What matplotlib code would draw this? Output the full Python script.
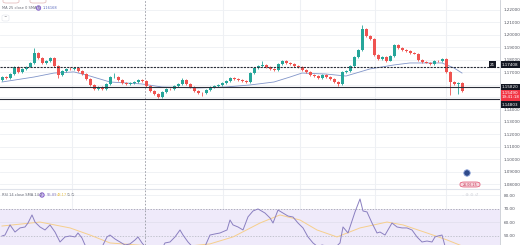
import numpy as np
import matplotlib
matplotlib.use("Agg")
import matplotlib.pyplot as plt
from matplotlib.patches import FancyBboxPatch, Ellipse

# daily candles (close, high, low); open is the previous close
first_open = 1.1637
closes = [1.1661, 1.1653, 1.1685, 1.1742, 1.1702, 1.1726, 1.1742, 1.1774, 1.1854, 1.1814,
          1.1774, 1.1790, 1.1814, 1.1750, 1.1677, 1.1710, 1.1726, 1.1722, 1.1734, 1.1710,
          1.1685, 1.1645, 1.1597, 1.1565, 1.1581, 1.1565, 1.1605, 1.1661, 1.1665, 1.1637,
          1.1613, 1.1605, 1.1613, 1.1621, 1.1637, 1.1629, 1.1589, 1.1549, 1.1525, 1.1501,
          1.1541, 1.1565, 1.1562, 1.1589, 1.1605, 1.1637, 1.1605, 1.1581, 1.1549, 1.1533,
          1.1529, 1.1557, 1.1581, 1.1589, 1.1597, 1.1613, 1.1629, 1.1653, 1.1645, 1.1637,
          1.1629, 1.1621, 1.1693, 1.1734, 1.1750, 1.1758, 1.1742, 1.1726, 1.1718, 1.1766,
          1.1790, 1.1774, 1.1768, 1.1750, 1.1742, 1.1718, 1.1702, 1.1677, 1.1669, 1.1653,
          1.1677, 1.1661, 1.1645, 1.1621, 1.1605, 1.1702, 1.1710, 1.1750, 1.1822, 1.1878,
          1.2047, 1.1991, 1.1967, 1.1838, 1.1806, 1.1822, 1.1790, 1.1830, 1.1919, 1.1894,
          1.1878, 1.1870, 1.1854, 1.1850, 1.1798, 1.1782, 1.1776, 1.1766, 1.1790, 1.1788,
          1.1806, 1.1702, 1.1621, 1.1605, 1.1613, 1.1549]
highs = [1.1670, 1.1672, 1.1692, 1.1750, 1.1748, 1.1733, 1.1750, 1.1782, 1.1893, 1.1860,
         1.1820, 1.1798, 1.1822, 1.1820, 1.1755, 1.1716, 1.1734, 1.1738, 1.1744, 1.1740,
         1.1715, 1.1690, 1.1650, 1.1602, 1.1590, 1.1588, 1.1612, 1.1668, 1.1690, 1.1670,
         1.1642, 1.1620, 1.1620, 1.1628, 1.1645, 1.1646, 1.1634, 1.1594, 1.1554, 1.1530,
         1.1548, 1.1572, 1.1574, 1.1596, 1.1612, 1.1650, 1.1642, 1.1610, 1.1586, 1.1555,
         1.1540, 1.1564, 1.1588, 1.1596, 1.1604, 1.1620, 1.1636, 1.1662, 1.1660, 1.1650,
         1.1642, 1.1634, 1.1700, 1.1742, 1.1758, 1.1790, 1.1764, 1.1748, 1.1732, 1.1774,
         1.1798, 1.1795, 1.1780, 1.1772, 1.1756, 1.1748, 1.1724, 1.1708, 1.1684, 1.1674,
         1.1684, 1.1682, 1.1666, 1.1650, 1.1630, 1.1710, 1.1718, 1.1758, 1.1830, 1.1886,
         1.2080, 1.2055, 1.1998, 1.1972, 1.1844, 1.1830, 1.1828, 1.1838, 1.1926, 1.1925,
         1.1900, 1.1884, 1.1876, 1.1862, 1.1856, 1.1804, 1.1790, 1.1782, 1.1797, 1.1800,
         1.1814, 1.1812, 1.1708, 1.1628, 1.1620, 1.1618]
lows = [1.1630, 1.1645, 1.1648, 1.1680, 1.1695, 1.1696, 1.1720, 1.1738, 1.1768, 1.1806,
        1.1766, 1.1768, 1.1785, 1.1745, 1.1655, 1.1670, 1.1705, 1.1715, 1.1716, 1.1704,
        1.1678, 1.1638, 1.1590, 1.1555, 1.1558, 1.1556, 1.1560, 1.1600, 1.1655, 1.1630,
        1.1606, 1.1598, 1.1600, 1.1608, 1.1616, 1.1622, 1.1582, 1.1542, 1.1518, 1.1490,
        1.1495, 1.1536, 1.1554, 1.1556, 1.1584, 1.1600, 1.1598, 1.1574, 1.1542, 1.1525,
        1.1512, 1.1522, 1.1552, 1.1575, 1.1584, 1.1592, 1.1608, 1.1624, 1.1638, 1.1630,
        1.1622, 1.1612, 1.1616, 1.1688, 1.1728, 1.1744, 1.1735, 1.1720, 1.1710, 1.1712,
        1.1760, 1.1768, 1.1760, 1.1744, 1.1736, 1.1712, 1.1695, 1.1670, 1.1662, 1.1646,
        1.1648, 1.1654, 1.1638, 1.1614, 1.1585, 1.1600, 1.1695, 1.1704, 1.1744, 1.1816,
        1.1870, 1.1984, 1.1958, 1.1830, 1.1798, 1.1800, 1.1784, 1.1786, 1.1824, 1.1888,
        1.1870, 1.1864, 1.1848, 1.1842, 1.1790, 1.1775, 1.1770, 1.1758, 1.1760, 1.1780,
        1.1782, 1.1695, 1.1517, 1.1598, 1.1525, 1.1540]

# moving average read at a few candles
sma_idx = [0, 8, 13, 18, 22, 27, 31, 35, 40, 49, 56, 62, 68, 72, 75, 81, 86, 92, 98, 102, 110, 113, 115]
sma_val = [1.1621, 1.1661, 1.1693, 1.1702, 1.1669, 1.1621, 1.1613, 1.1605, 1.1581, 1.1573, 1.1581,
           1.1597, 1.1621, 1.1661, 1.1693, 1.1685, 1.1669, 1.1726, 1.1758, 1.1774, 1.1774, 1.1734, 1.1693]

levels = [1.1741, 1.1582, 1.1482]
price_ticks = [1.08, 1.09, 1.10, 1.11, 1.12, 1.13, 1.14, 1.17, 1.18, 1.19, 1.20, 1.21, 1.22]

# RSI pane
rsi_idx = [0, 0.75, 2, 3.25, 4.5, 5.75, 6.5, 7.5, 8.25, 9.5, 10.75, 12, 13.25, 14.5, 15.75, 17,
           18.25, 19, 20, 20.75, 23.25, 24.5, 26.25, 27, 28.25, 29.5, 30.75, 32, 33.25, 34, 35,
           37, 39, 40.75, 42, 43.25, 44.5, 45.25, 46.5, 48.25, 50.25, 52, 53.25, 54.5, 56.25,
           57, 57.75, 59, 60.25, 61.5, 62.75, 64, 65.75, 67, 67.75, 69, 70.25, 71.5, 72.75, 74,
           75.25, 76.5, 77.75, 79, 80, 81.25, 82.75, 84.5, 85.25, 86.5, 88.25, 89.5, 90.25,
           91.25, 92.5, 93.75, 94.5, 95.75, 97.5, 98.75, 100, 101.25, 102.5, 103.75, 105,
           106.25, 107.5, 108.25, 109, 110, 111, 112, 113, 114, 115]
rsi_val = [50.0, 50.7, 58.1, 52.9, 55.9, 56.6, 59.5, 65.4, 60.2, 56.6, 54.4, 58.1, 52.9, 45.6,
           49.3, 50.0, 49.3, 52.2, 48.5, 43.4, 38.0, 39.0, 49.3, 50.7, 47.8, 45.6, 43.4, 44.2,
           47.1, 49.3, 44.9, 38.0, 35.0, 44.9, 45.6, 49.3, 54.4, 50.7, 45.6, 40.0, 39.0, 50.7,
           51.5, 52.2, 54.4, 61.7, 58.1, 56.6, 54.4, 64.0, 68.3, 69.8, 66.8, 63.2, 59.5, 69.0,
           66.8, 64.6, 63.9, 59.5, 55.9, 49.3, 44.9, 42.0, 43.4, 42.5, 40.0, 44.9, 56.6, 52.2,
           67.6, 77.1, 68.3, 67.6, 59.5, 52.2, 52.9, 50.7, 59.5, 56.6, 55.9, 55.9, 54.4, 49.3,
           45.6, 46.3, 45.6, 49.3, 50.0, 50.7, 40.0, 33.0, 32.0, 33.0, 30.0]
rsi_ma_idx = [0, 9.5, 17, 22, 27, 37, 47, 52, 57.75, 64.5, 69.5, 74.5, 78.75, 83.75, 89.5, 96.25, 100.25, 106.25, 111.25, 115]
rsi_ma_val = [57.3, 60.2, 55.9, 50.7, 44.9, 42.7, 42.7, 44.2, 49.3, 59.5, 65.4, 61.7, 54.4, 49.3,
              55.9, 60.2, 58.1, 52.2, 47.1, 42.7]
rsi_ticks = [50, 60, 70, 80]

W, H = 520, 245
UP, DOWN = "#26a69a", "#ef5350"


def rect(x0, y0, x1, y1):
    return [x0 / W, 1 - y1 / H, (x1 - x0) / W, (y1 - y0) / H]


def dot(x, y, r, **kw):
    # round marker in pixel units, placed in figure coords
    fig.patches.append(Ellipse((x / W, 1 - y / H), 2 * r / W, 2 * r / H,
                               transform=fig.transFigure, **kw))


def tag(x, y, s, fc):
    fig.text(x / W, 1 - y / H, s, fontsize=3.0, color="white", va="center", ha="left",
             linespacing=1.0, zorder=10,
             bbox=dict(boxstyle="square,pad=0.25", fc=fc, ec="none"))


fig = plt.figure(figsize=(W / 100, H / 100), dpi=100)
ax = fig.add_axes(rect(0, 0, 500, 189))
ax2 = fig.add_axes(rect(0, 189, 500, 245))

idx = np.arange(len(closes))
c = np.array(closes)
o = np.array([first_open] + closes[:-1])
colors = np.where(c >= o, UP, DOWN)

vgrid = [17.5, 55.25, 74.5, 93.25, 111]
cross = 35.75

for a in (ax, ax2):
    a.set_xlim(-0.5, 124.5)
    for v in vgrid:
        a.axvline(v, color="#eef0f4", lw=0.8, zorder=0)
    a.axvline(cross, color="#9598a1", lw=0.6, ls=(0, (2, 2)), zorder=1)
    a.set_xticks([])
    for s in ("top", "left", "bottom"):
        a.spines[s].set_visible(False)
    a.spines["right"].set_color("#c9ccd3")
    a.spines["right"].set_linewidth(0.6)
    a.yaxis.tick_right()
    a.tick_params(axis="y", length=0, labelsize=3.0, labelcolor="#50535e", pad=2.5)

# price pane
ax.set_ylim(1.0761, 1.2280)
for t in np.arange(1.08, 1.225, 0.01):
    ax.axhline(t, color="#eef0f4", lw=0.6, zorder=0)
ax.vlines(idx, lows, highs, colors=colors, lw=0.6, zorder=3)
ax.bar(idx, np.abs(c - o), bottom=np.minimum(c, o), width=0.75, color=colors, lw=0, zorder=4)
ax.plot(sma_idx, sma_val, color="#8195c9", lw=0.6, zorder=2)
ax.axhline(levels[0], color="#2a2e39", lw=0.8, ls=(0, (2, 1)), zorder=5)
ax.axhline(levels[1], color="#2a2e39", lw=0.8, zorder=5)
ax.axhline(levels[2], color="#2a2e39", lw=0.8, zorder=5)
ax.set_yticks(price_ticks)
ax.set_yticklabels([f"{t:.5f}" for t in price_ticks])

# price tags on the right scale
tag(502, 64.5, "1.17408", "#131722")
tag(490, 64.5, "21", "#131722")
tag(502, 87, "1.15820", "#131722")
tag(502, 95.5, "1.15490\n19:41:18", "#f23645")
tag(502, 104.5, "1.14803", "#131722")

# legend / toolbar pieces
for x0, x1 in [(3, 19), (30, 46)]:
    fig.patches.append(FancyBboxPatch((x0 / W, 1 - 3 / H), (x1 - x0) / W, 6 / H,
                                      boxstyle="round,pad=0,rounding_size=0.006",
                                      transform=fig.transFigure, fc="white", ec="#e0b4b4", lw=0.5))
fig.text(2 / W, 1 - 8 / H, "MA 25 close 0 SMA 5", fontsize=2.6, color="#6a6d78", va="center")
dot(38.5, 8, 2.2, fc="#c9b8ef", ec="#7e57c2", lw=0.6)
fig.text(43 / W, 1 - 8 / H, "1.16168", fontsize=2.6, color="#5b6bbf", va="center")
fig.patches.append(FancyBboxPatch((2 / W, 1 - 21 / H), 7 / W, 6 / H,
                                  boxstyle="round,pad=0,rounding_size=0.004",
                                  transform=fig.transFigure, fc="white", ec="#e0e3eb", lw=0.4))
fig.text(5.5 / W, 1 - 18 / H, "^", fontsize=3, color="#50535e", ha="center", va="center")

# markers near the scale
dot(467, 173, 3.2, fc="#2e4a8a", ec="#8aa0d8", lw=0.6)
fig.patches.append(FancyBboxPatch((460 / W, 1 - 187 / H), 20 / W, 5 / H,
                                  boxstyle="round,pad=0,rounding_size=0.008",
                                  transform=fig.transFigure, fc="#f7d6de", ec="#e04a6a", lw=0.5))
fig.text(470 / W, 1 - 184.5 / H, "26.06.25", fontsize=2.3, color="#c0304f", ha="center", va="center")

# RSI pane
ax2.set_ylim(43.4, 84.4)
ax2.axhspan(30, 70, color="#efeafa", lw=0, zorder=0)
ax2.axhline(70, color="#9598a1", lw=0.5, ls=(0, (2, 2)), zorder=1)
ax2.axhline(50, color="#b2b5be", lw=0.5, ls=(0, (2, 2)), zorder=1)
ax2.axhline(80, color="#eef0f4", lw=0.6, zorder=0)
ax2.axhline(60, color="#e3e0ef", lw=0.6, zorder=0)
ax2.plot(rsi_ma_idx, rsi_ma_val, color="#f6cf8c", lw=0.7, zorder=2)
ax2.plot(rsi_idx, rsi_val, color="#8a7fc0", lw=0.7, zorder=3)
ax2.set_yticks(rsi_ticks)
ax2.set_yticklabels([f"{t:.2f}" for t in rsi_ticks])
fig.lines.append(plt.Line2D([0, 500 / W], [1 - 189 / H] * 2, transform=fig.transFigure,
                            color="#e0e3eb", lw=0.8))
fig.text(2 / W, 1 - 195 / H, "RSI 14 close SMA 14 2", fontsize=2.6, color="#6a6d78", va="center")
dot(42, 195, 2.2, fc="#c9b8ef", ec="#7e57c2", lw=0.6)
fig.text(47 / W, 1 - 195 / H, "55.89", fontsize=2.6, color="#8a7fc0", va="center")
fig.text(57 / W, 1 - 195 / H, "48.17", fontsize=2.6, color="#e8c04a", va="center")
fig.text(67 / W, 1 - 195 / H, "∅ ∅", fontsize=2.6, color="#6a6d78", va="center")
fig.text(462 / W, 1 - 195 / H, "– ⊕ ⊖ ↺", fontsize=3, color="#d4d6dc", va="center")

fig.savefig("out.png", dpi=100)
